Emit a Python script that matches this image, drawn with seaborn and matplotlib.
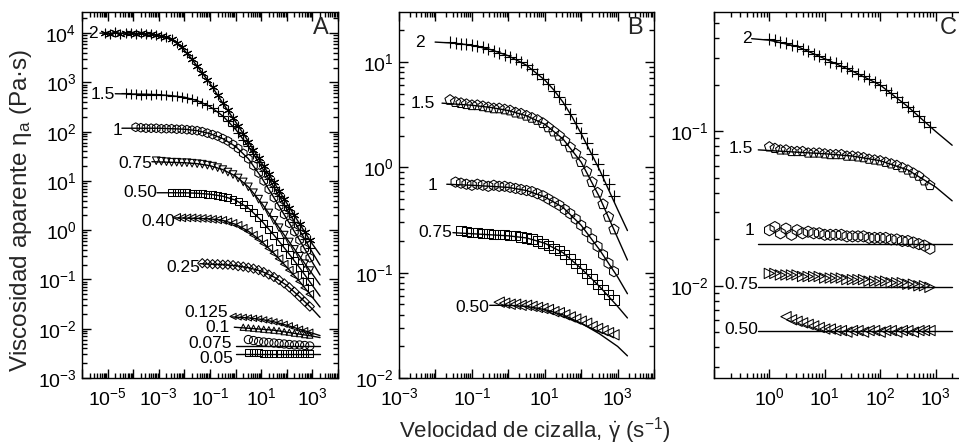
import numpy as np
import matplotlib
matplotlib.use("Agg")
import matplotlib.pyplot as plt
import matplotlib.ticker as mticker
import seaborn as sns

# ---------------------------------------------------------------
# Data (all values are log10 of the axis quantity)
# ---------------------------------------------------------------
# Panel A : shear-rate grid (log10 s^-1) of the measured points
A_GRID = [-5.1, -4.9, -4.7, -4.5, -4.3, -4.1, -3.9, -3.7, -3.5, -3.3, -3.1,
          -2.9, -2.7, -2.5, -2.3, -2.1, -1.9, -1.7, -1.5, -1.3, -1.1, -0.9,
          -0.7, -0.5, -0.3, -0.1, 0.1, 0.3, 0.5, 0.7, 0.9, 1.1, 1.3, 1.5,
          1.7, 1.9, 2.1, 2.3, 2.5, 2.7, 2.9]
A_LABELS = ['2', '1.5', '1', '0.75', '0.50', '0.40', '0.25', '0.125', '0.1', '0.075', '0.05']
A_START = [-5.1, -4.3, -3.9, -3.1, -2.5, -2.3, -1.3, -0.1, 0.3, 0.5, 0.5]

A_Y_2 = [4.01, 3.99, 4.02, 3.98, 4.01, 4.00, 3.98, 4.01, 3.99, 3.98, 3.97, 3.95, 3.92,
         3.88, 3.81, 3.71, 3.60, 3.47, 3.33, 3.19, 3.05, 2.90, 2.74, 2.58, 2.43, 2.27,
         2.12, 1.96, 1.80, 1.63, 1.47, 1.30, 1.14, 0.97, 0.80, 0.63, 0.46, 0.30, 0.13,
         -0.03, -0.20]
A_Y_15 = [2.78, 2.76, 2.77, 2.75, 2.76, 2.75, 2.76, 2.74, 2.74, 2.73, 2.72, 2.70, 2.68,
          2.66, 2.63, 2.59, 2.54, 2.48, 2.41, 2.32, 2.22, 2.11, 1.98, 1.84, 1.70, 1.54,
          1.38, 1.21, 1.04, 0.87, 0.70, 0.52, 0.35, 0.17, 0.0, -0.18, -0.36]
A_Y_1 = [2.09, 2.08, 2.07, 2.07, 2.07, 2.06, 2.06, 2.06, 2.05, 2.05, 2.04, 2.03, 2.02,
         2.00, 1.97, 1.94, 1.91, 1.86, 1.81, 1.74, 1.66, 1.56, 1.45, 1.31, 1.16, 1.00,
         0.83, 0.66, 0.49, 0.32, 0.14, -0.03, -0.20, -0.38, -0.56]
A_Y_075 = [1.41, 1.40, 1.39, 1.38, 1.38, 1.37, 1.37, 1.36, 1.35, 1.34, 1.32, 1.30, 1.27,
           1.23, 1.18, 1.13, 1.06, 0.98, 0.88, 0.76, 0.63, 0.49, 0.35, 0.20, 0.05, -0.10,
           -0.24, -0.39, -0.53, -0.68, -0.82]
A_Y_050 = [0.77, 0.76, 0.76, 0.76, 0.75, 0.75, 0.74, 0.73, 0.72, 0.71, 0.69, 0.66, 0.63,
           0.58, 0.52, 0.45, 0.36, 0.25, 0.14, 0.02, -0.10, -0.23, -0.36, -0.49, -0.62,
           -0.76, -0.90, -1.04]
A_Y_040 = [0.26, 0.25, 0.25, 0.25, 0.24, 0.24, 0.23, 0.22, 0.21, 0.20, 0.17, 0.14, 0.10,
           0.04, -0.02, -0.10, -0.18, -0.27, -0.37, -0.47, -0.58, -0.69, -0.81, -0.92,
           -1.04, -1.17, -1.30]
A_Y_025 = [-0.67, -0.68, -0.69, -0.69, -0.70, -0.70, -0.71, -0.73, -0.74, -0.76, -0.78,
           -0.81, -0.85, -0.90, -0.95, -1.01, -1.08, -1.16, -1.25, -1.35, -1.45, -1.55]
A_Y_0125 = [-1.75, -1.76, -1.77, -1.78, -1.79, -1.80, -1.82, -1.84, -1.86, -1.88, -1.91,
            -1.94, -1.98, -2.01, -2.04, -2.07]
A_Y_01 = [-1.97, -1.98, -1.99, -2.00, -2.01, -2.02, -2.03, -2.04, -2.06, -2.07, -2.09,
          -2.10, -2.12, -2.13]
A_Y_0075 = [-2.22, -2.24, -2.26, -2.27, -2.28, -2.29, -2.30, -2.31, -2.32, -2.33, -2.33,
            -2.34, -2.35]
A_Y_005 = [-2.48, -2.49, -2.49, -2.50, -2.50, -2.50, -2.51, -2.51, -2.51, -2.51, -2.51,
           -2.51, -2.51]

# Panel A model fits
A_FIT_X_2 = [-5.3, -4.0, -3.5, -3.0, -2.75, -2.5, -2.25, -2.0, -1.75, -1.5, -1.0, -0.5, 0.0,
             0.5, 1.0, 1.5, 2.0, 2.5, 3.0, 3.3]
A_FIT_Y_2 = [4.0, 4.0, 3.99, 3.96, 3.93, 3.88, 3.78, 3.65, 3.50, 3.33, 2.98, 2.58, 2.20,
             1.80, 1.38, 0.97, 0.55, 0.13, -0.28, -0.50]
A_FIT_X_15 = [-4.7, -3.5, -3.0, -2.5, -2.0, -1.5, -1.0, -0.5, 0.0, 0.5, 1.0, 1.5, 2.0, 2.5, 3.0, 3.3]
A_FIT_Y_15 = [2.77, 2.76, 2.75, 2.73, 2.70, 2.63, 2.51, 2.32, 2.05, 1.70, 1.30, 0.87, 0.43,
              0.0, -0.45, -0.71]
A_FIT_X_1 = [-4.44, -3.0, -2.0, -1.5, -1.0, -0.5, 0.0, 0.5, 1.0, 1.5, 2.0, 2.5, 3.0, 3.3]
A_FIT_Y_1 = [2.07, 2.07, 2.05, 2.02, 1.96, 1.86, 1.70, 1.45, 1.08, 0.66, 0.23, -0.20, -0.65, -0.91]
A_FIT_X_075 = [-3.27, -2.0, -1.5, -1.0, -0.5, 0.0, 0.5, 1.0, 1.5, 2.0, 2.5, 3.0, 3.3]
A_FIT_Y_075 = [1.39, 1.37, 1.35, 1.31, 1.23, 1.10, 0.88, 0.56, 0.20, -0.17, -0.53, -0.89, -1.11]
A_FIT_X_050 = [-3.07, -2.0, -1.5, -1.0, -0.5, 0.0, 0.5, 1.0, 1.5, 2.0, 2.5, 3.0, 3.3]
A_FIT_Y_050 = [0.76, 0.76, 0.75, 0.73, 0.69, 0.61, 0.45, 0.20, -0.10, -0.42, -0.76, -1.12, -1.34]
A_FIT_X_040 = [-2.37, -1.5, -1.0, -0.5, 0.0, 0.5, 1.0, 1.5, 2.0, 2.5, 3.0, 3.3]
A_FIT_Y_040 = [0.25, 0.24, 0.23, 0.20, 0.12, -0.02, -0.22, -0.47, -0.75, -1.04, -1.36, -1.56]
A_FIT_X_025 = [-1.39, -0.5, 0.0, 0.5, 1.0, 1.5, 2.0, 2.5, 3.0, 3.3]
A_FIT_Y_025 = [-0.68, -0.70, -0.72, -0.76, -0.83, -0.95, -1.12, -1.35, -1.60, -1.77]
A_FIT_X_0125 = [-0.15, 0.5, 1.0, 1.5, 2.0, 2.5, 3.0, 3.3]
A_FIT_Y_0125 = [-1.76, -1.78, -1.81, -1.86, -1.93, -2.01, -2.09, -2.14]
A_FIT_X_01 = [-0.05, 0.5, 1.0, 1.5, 2.0, 2.5, 3.0, 3.3]
A_FIT_Y_01 = [-1.97, -1.99, -2.01, -2.03, -2.07, -2.11, -2.15, -2.18]
A_FIT_X_0075 = [0.0, 3.3]
A_FIT_Y_0075 = [-2.36, -2.36]
A_FIT_X_005 = [0.0, 3.3]
A_FIT_Y_005 = [-2.52, -2.52]

# Panel B
B_GRID = [-1.6, -1.45, -1.3, -1.15, -1.0, -0.85, -0.7, -0.55, -0.4, -0.25, -0.1, 0.05,
          0.2, 0.35, 0.5, 0.65, 0.8, 0.95, 1.1, 1.25, 1.4, 1.55, 1.7, 1.85, 2.0, 2.15,
          2.3, 2.45, 2.6, 2.75, 2.9]
B_LABELS = ['2', '1.5', '1', '0.75', '0.50']
B_START = [-1.6, -1.6, -1.45, -1.3, -0.25]
B_Y_2 = [1.19, 1.18, 1.17, 1.17, 1.16, 1.15, 1.14, 1.12, 1.11, 1.09, 1.07, 1.05, 1.03,
         1.00, 0.97, 0.93, 0.89, 0.84, 0.79, 0.73, 0.67, 0.60, 0.51, 0.42, 0.33, 0.23,
         0.13, 0.03, -0.07, -0.16, -0.27]
B_Y_15 = [0.64, 0.62, 0.61, 0.60, 0.59, 0.59, 0.58, 0.57, 0.56, 0.56, 0.55, 0.54, 0.52,
          0.51, 0.49, 0.47, 0.45, 0.42, 0.38, 0.34, 0.30, 0.25, 0.19, 0.13, 0.05, -0.04,
          -0.14, -0.24, -0.35, -0.47, -0.59]
B_Y_1 = [-0.14, -0.15, -0.16, -0.17, -0.16, -0.17, -0.18, -0.17, -0.18, -0.18, -0.19,
         -0.20, -0.21, -0.22, -0.23, -0.25, -0.27, -0.30, -0.33, -0.36, -0.40, -0.44,
         -0.49, -0.55, -0.61, -0.68, -0.75, -0.83, -0.91, -0.99]
B_Y_075 = [-0.60, -0.61, -0.62, -0.62, -0.63, -0.63, -0.64, -0.64, -0.64, -0.65, -0.65,
           -0.66, -0.67, -0.68, -0.70, -0.72, -0.74, -0.77, -0.79, -0.83, -0.87, -0.91,
           -0.96, -1.01, -1.06, -1.11, -1.16, -1.21, -1.26]
B_Y_050 = [-1.28, -1.29, -1.30, -1.30, -1.31, -1.31, -1.32, -1.33, -1.34, -1.35, -1.37,
           -1.38, -1.40, -1.42, -1.44, -1.46, -1.48, -1.51, -1.53, -1.55, -1.57, -1.59]

B_FIT_X_2 = [-2.01, -1.5, -1.0, -0.5, 0.0, 0.5, 1.0, 1.25, 1.5, 1.75, 2.0, 2.5, 3.0, 3.27]
B_FIT_Y_2 = [1.19, 1.18, 1.16, 1.12, 1.06, 0.97, 0.83, 0.735, 0.62, 0.48, 0.32, -0.02, -0.40, -0.60]
B_FIT_X_15 = [-1.82, -1.0, -0.5, 0.0, 0.5, 1.0, 1.5, 2.0, 2.5, 3.0, 3.27]
B_FIT_Y_15 = [0.61, 0.59, 0.57, 0.54, 0.49, 0.41, 0.27, 0.05, -0.28, -0.67, -0.88]
B_FIT_X_1 = [-1.69, -1.0, -0.5, 0.0, 0.5, 1.0, 1.5, 2.0, 2.5, 3.0, 3.27]
B_FIT_Y_1 = [-0.16, -0.17, -0.18, -0.19, -0.22, -0.28, -0.38, -0.55, -0.78, -1.04, -1.20]
B_FIT_X_075 = [-1.52, -1.0, -0.5, 0.0, 0.5, 1.0, 1.5, 2.0, 2.5, 3.0, 3.27]
B_FIT_Y_075 = [-0.62, -0.63, -0.64, -0.65, -0.67, -0.72, -0.81, -0.96, -1.13, -1.32, -1.43]
B_FIT_X_050 = [-0.51, 0.0, 0.5, 1.0, 1.5, 2.0, 2.5, 3.0, 3.27]
B_FIT_Y_050 = [-1.31, -1.31, -1.32, -1.35, -1.40, -1.48, -1.58, -1.70, -1.79]

# Panel C
C_GRID = [0.0, 0.1, 0.2, 0.3, 0.4, 0.5, 0.6, 0.7, 0.8, 0.9, 1.0, 1.1, 1.2, 1.3, 1.4,
          1.5, 1.6, 1.7, 1.8, 1.9, 2.0, 2.1, 2.2, 2.3, 2.4, 2.5, 2.6, 2.7, 2.8, 2.9]
C_LABELS = ['2', '1.5', '1', '0.75', '0.50']
C_START = [0.0, 0.0, 0.0, 0.0, 0.3]
C_Y_2 = [-0.40, -0.41, -0.42, -0.43, -0.44, -0.45, -0.47, -0.48, -0.50, -0.51, -0.53,
         -0.55, -0.56, -0.58, -0.59, -0.61, -0.63, -0.64, -0.66, -0.68, -0.70, -0.73,
         -0.75, -0.78, -0.81, -0.84, -0.87, -0.90, -0.94, -0.97]
C_Y_15 = [-1.10, -1.11, -1.12, -1.12, -1.13, -1.13, -1.13, -1.14, -1.14, -1.14, -1.145,
          -1.15, -1.15, -1.15, -1.16, -1.16, -1.165, -1.17, -1.18, -1.185, -1.19, -1.20,
          -1.21, -1.22, -1.235, -1.25, -1.27, -1.29, -1.32, -1.35]
C_Y_1 = [-1.64, -1.62, -1.66, -1.63, -1.67, -1.64, -1.66, -1.65, -1.66, -1.66, -1.67,
         -1.67, -1.67, -1.67, -1.68, -1.68, -1.68, -1.68, -1.69, -1.69, -1.69, -1.69,
         -1.70, -1.70, -1.71, -1.71, -1.72, -1.73, -1.74, -1.76]
C_Y_075 = [-1.92, -1.92, -1.93, -1.93, -1.93, -1.93, -1.94, -1.94, -1.94, -1.94, -1.95,
           -1.95, -1.95, -1.95, -1.96, -1.96, -1.96, -1.96, -1.97, -1.97, -1.97, -1.97,
           -1.98, -1.98, -1.98, -1.99, -1.99, -2.00, -2.00, -2.01]
C_Y_050 = [-2.20, -2.22, -2.23, -2.24, -2.25, -2.26, -2.27, -2.28, -2.28, -2.29, -2.29,
           -2.30, -2.29, -2.29, -2.30, -2.29, -2.29, -2.30, -2.29, -2.29, -2.30, -2.29,
           -2.29, -2.30, -2.29, -2.29, -2.29]

C_FIT_X_2 = [-0.32, 0.0, 0.5, 1.0, 1.5, 2.0, 2.5, 3.0, 3.3]
C_FIT_Y_2 = [-0.40, -0.41, -0.45, -0.53, -0.61, -0.70, -0.84, -1.00, -1.09]
C_FIT_X_15 = [-0.2, 0.5, 1.0, 1.5, 2.0, 2.5, 3.0, 3.3]
C_FIT_Y_15 = [-1.12, -1.135, -1.145, -1.16, -1.19, -1.25, -1.36, -1.45]
C_FIT_X_1 = [-0.2, 3.3]
C_FIT_Y_1 = [-1.73, -1.73]
C_FIT_X_075 = [-0.2, 3.3]
C_FIT_Y_075 = [-2.005, -2.005]
C_FIT_X_050 = [-0.2, 3.3]
C_FIT_Y_050 = [-2.29, -2.29]

# ---------------------------------------------------------------
# Styling / layout (not data)
# ---------------------------------------------------------------
sns.set_theme(style="ticks")
plt.rcParams["font.family"] = ["Liberation Sans", "DejaVu Sans"]
plt.rcParams["mathtext.fontset"] = "custom"
plt.rcParams["mathtext.rm"] = "Liberation Sans"
plt.rcParams["mathtext.it"] = "Liberation Sans:italic"
plt.rcParams["mathtext.bf"] = "Liberation Sans:bold"
plt.rcParams["axes.linewidth"] = 1.0
plt.rcParams["axes.edgecolor"] = "black"

A_MARKERS = [(6, 2, 0), '+', 'h', 'v', 's', '<', 'D', '<', '^', 'o', 's']
A_SIZES = [40, 45, 40, 30, 25, 30, 22, 20, 20, 35, 25]
B_MARKERS = ['+', 'p', 'h', 's', '<']
B_SIZES = [70, 60, 55, 45, 55]
C_MARKERS = ['+', 'p', 'h', '>', '<']
C_SIZES = [70, 55, 65, 55, 55]

A_LABEL_X = [-5.37, -4.71, -4.44, -3.27, -3.07, -2.37, -1.39, -0.30, -0.22, -0.14, -0.10]
A_LABEL_Y = [4.0, 2.76, 2.03, 1.36, 0.755, 0.17, -0.75, -1.68, -1.98, -2.31, -2.61]
B_LABEL_X = [-2.29, -2.01, -1.96, -1.55, -0.51]
B_LABEL_Y = [1.19, 0.61, -0.17, -0.62, -1.33]
C_LABEL_X = [-0.32, -0.29, -0.27, -0.20, -0.20]
C_LABEL_Y = [-0.40, -1.11, -1.64, -1.99, -2.28]

A_DATA = [A_Y_2, A_Y_15, A_Y_1, A_Y_075, A_Y_050, A_Y_040, A_Y_025, A_Y_0125, A_Y_01, A_Y_0075, A_Y_005]
A_FITS = [(A_FIT_X_2, A_FIT_Y_2), (A_FIT_X_15, A_FIT_Y_15), (A_FIT_X_1, A_FIT_Y_1),
          (A_FIT_X_075, A_FIT_Y_075), (A_FIT_X_050, A_FIT_Y_050), (A_FIT_X_040, A_FIT_Y_040),
          (A_FIT_X_025, A_FIT_Y_025), (A_FIT_X_0125, A_FIT_Y_0125), (A_FIT_X_01, A_FIT_Y_01),
          (A_FIT_X_0075, A_FIT_Y_0075), (A_FIT_X_005, A_FIT_Y_005)]
B_DATA = [B_Y_2, B_Y_15, B_Y_1, B_Y_075, B_Y_050]
B_FITS = [(B_FIT_X_2, B_FIT_Y_2), (B_FIT_X_15, B_FIT_Y_15), (B_FIT_X_1, B_FIT_Y_1),
          (B_FIT_X_075, B_FIT_Y_075), (B_FIT_X_050, B_FIT_Y_050)]
C_DATA = [C_Y_2, C_Y_15, C_Y_1, C_Y_075, C_Y_050]
C_FITS = [(C_FIT_X_2, C_FIT_Y_2), (C_FIT_X_15, C_FIT_Y_15), (C_FIT_X_1, C_FIT_Y_1),
          (C_FIT_X_075, C_FIT_Y_075), (C_FIT_X_050, C_FIT_Y_050)]


def xs_for(grid, start, n):
    g = np.asarray(grid)
    i = int(np.argmin(np.abs(g - start)))
    return g[i:i + n]


def make_fmt(exps):
    def f(v, pos):
        if v <= 0:
            return ""
        e = int(np.round(np.log10(v)))
        if e in exps:
            return r"$\mathregular{10^{%d}}$" % e
        return ""
    return f


def style_axes(ax, xlim, ylim, xexps, yexps):
    ax.set_xscale("log")
    ax.set_yscale("log")
    ax.set_xlim(*xlim)
    ax.set_ylim(*ylim)
    for axis, exps in ((ax.xaxis, xexps), (ax.yaxis, yexps)):
        axis.set_major_locator(mticker.LogLocator(base=10, numticks=100))
        axis.set_minor_locator(mticker.LogLocator(base=10, subs=np.arange(2, 10), numticks=300))
        axis.set_major_formatter(mticker.FuncFormatter(make_fmt(exps)))
        axis.set_minor_formatter(mticker.NullFormatter())
    ax.tick_params(which="both", direction="in", top=True, right=True, width=1.0, colors="black")
    ax.tick_params(which="major", length=6.5)
    ax.tick_params(which="minor", length=3.5)
    ax.tick_params(axis="x", which="major", pad=7, labelsize=14)
    ax.tick_params(axis="y", which="major", pad=4, labelsize=14)
    for sp in ax.spines.values():
        sp.set_visible(True)
        sp.set_color("black")
        sp.set_linewidth(1.0)
    ax.grid(False)
    ax.set_facecolor("white")


def draw_panel(ax, grid, starts, data, fits, markers, sizes, labels, lx, ly):
    for k in range(len(data)):
        x = 10 ** xs_for(grid, starts[k], len(data[k]))
        y = 10 ** np.asarray(data[k])
        fx, fy = fits[k]
        sns.lineplot(x=10 ** np.asarray(fx), y=10 ** np.asarray(fy), ax=ax, color="black",
                     linewidth=1.0, sort=False, estimator=None, zorder=2)
        m = markers[k]
        mk = matplotlib.markers.MarkerStyle(m)
        if mk.is_filled():
            sns.scatterplot(x=x, y=y, ax=ax, marker=m, s=sizes[k], facecolor="none",
                            edgecolor="black", linewidth=0.75, zorder=3, legend=False)
        else:
            sns.scatterplot(x=x, y=y, ax=ax, marker=m, s=sizes[k], color="black",
                            linewidth=0.8, zorder=3, legend=False)
        ax.text(10 ** lx[k], 10 ** ly[k], labels[k], ha="right", va="center",
                fontsize=12.5, color="black")


fig = plt.figure(figsize=(9.59, 4.48), dpi=100)
fig.patch.set_facecolor("white")
bottom, height = 0.1563, 0.8170
axA = fig.add_axes([0.0855, bottom, 0.2669, height])
axB = fig.add_axes([0.4161, bottom, 0.2659, height])
axC = fig.add_axes([0.7445, bottom, 0.2888, height])

style_axes(axA, (1e-6, 1e4), (1e-3, 10 ** 4.43), {-5, -3, -1, 1, 3}, set(range(-3, 5)))
style_axes(axB, (1e-3, 1e4), (1e-2, 10 ** 1.476), {-3, -1, 1, 3}, {-2, -1, 0, 1})
style_axes(axC, (1e-1, 1e4), (10 ** -2.597, 10 ** -0.227), {0, 1, 2, 3}, {-2, -1})

draw_panel(axA, A_GRID, A_START, A_DATA, A_FITS, A_MARKERS, A_SIZES, A_LABELS, A_LABEL_X, A_LABEL_Y)
draw_panel(axB, B_GRID, B_START, B_DATA, B_FITS, B_MARKERS, B_SIZES, B_LABELS, B_LABEL_X, B_LABEL_Y)
draw_panel(axC, C_GRID, C_START, C_DATA, C_FITS, C_MARKERS, C_SIZES, C_LABELS, C_LABEL_X, C_LABEL_Y)

for ax in (axA, axB, axC):
    ax.set_xlabel("")
    ax.set_ylabel("")

axA.text(0.965, 0.985, "A", transform=axA.transAxes, ha="right", va="top", fontsize=17)
axB.text(0.957, 0.985, "B", transform=axB.transAxes, ha="right", va="top", fontsize=17)
axC.text(0.877, 0.985, "C", transform=axC.transAxes, ha="right", va="top", fontsize=17)

fig.text(0.022, 0.53, r"Viscosidad aparente η$_\mathregular{a}$ (Pa·s)", rotation=90,
         ha="center", va="center", fontsize=17.5)
fig.text(0.558, 0.038, r"Velocidad de cizalla, $\dot{\mathregular{γ}}$ (s$^{\mathregular{-1}}$)",
         ha="center", va="center", fontsize=16)

fig.savefig("out.png", dpi=100, facecolor="white")
